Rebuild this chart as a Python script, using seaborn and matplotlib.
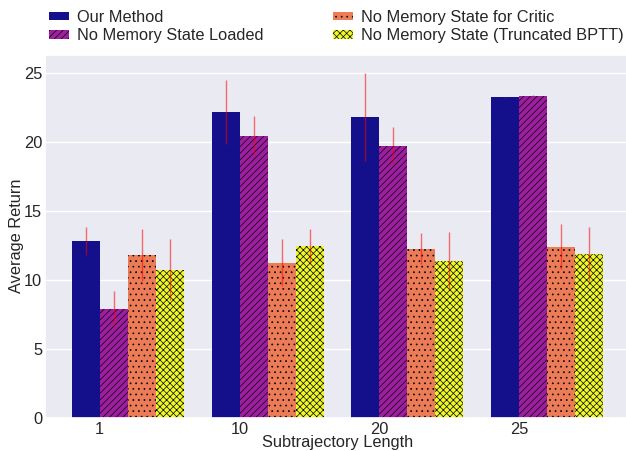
import numpy as np
import pandas as pd
import seaborn as sns
import matplotlib
matplotlib.use('Agg')
import matplotlib.pyplot as plt

# values
lengths = ['1', '10', '20', '25']
methods = ['Our Method', 'No Memory State Loaded',
           'No Memory State for Critic', 'No Memory State (Truncated BPTT)']
our_method = [12.8, 22.14, 21.81, 23.22]
no_mem_loaded = [7.87, 20.43, 19.69, 23.31]
no_mem_critic = [11.78, 11.23, 12.25, 12.39]
no_mem_bptt = [10.72, 12.44, 11.38, 11.84]
our_err = [1.03, 2.3, 3.2, 0.05]
loaded_err = [1.3, 1.4, 1.35, 0.1]
critic_err = [1.87, 1.72, 1.15, 1.63]
bptt_err = [2.2, 1.26, 2.08, 1.95]

means = [our_method, no_mem_loaded, no_mem_critic, no_mem_bptt]
errs = [our_err, loaded_err, critic_err, bptt_err]
hatches = ['', '/////', '...', 'xxxxx']

df = pd.DataFrame([
    {'Subtrajectory Length': l, 'method': m, 'Average Return': means[i][j], 'err': errs[i][j]}
    for i, m in enumerate(methods)
    for j, l in enumerate(lengths)
])

sns.set_theme(style='darkgrid')
plt.rcParams['font.family'] = ['Liberation Sans', 'DejaVu Sans']
plt.rcParams['hatch.linewidth'] = 0.5

fs = 11.8
colors = [plt.cm.plasma(v) for v in np.linspace(0, 1, 4)]

fig = plt.figure(figsize=(6.26, 4.51), dpi=100)
ax = fig.add_axes([45 / 626, 33.3 / 451, 585 / 626, 363 / 451])

sns.barplot(data=df, x='Subtrajectory Length', y='Average Return', hue='method',
            hue_order=methods, order=lengths, palette=colors, saturation=1,
            errorbar=None, ax=ax, alpha=0.97)

for cont, h, e in zip(ax.containers, hatches, errs):
    for p in cont.patches:
        p.set_hatch(h)
        p.set_edgecolor((0, 0, 0, 0.5))
        p.set_linewidth(0)
    xs = [p.get_x() + p.get_width() / 2 for p in cont.patches]
    ys = [p.get_height() for p in cont.patches]
    ax.errorbar(xs, ys, yerr=e, fmt='none', ecolor='red', alpha=0.55,
                elinewidth=1, capsize=0, zorder=5)

ax.get_legend().remove()
ax.set_xticks(np.arange(len(lengths)) - 0.2)
ax.set_xticklabels(lengths)
ax.tick_params(axis='x', labelsize=fs, pad=3, length=0)
ax.tick_params(axis='y', labelsize=fs, pad=2, length=0)
ax.set_xlim(-0.59, 3.59)
ax.set_ylim(0, 26.3)
ax.set_xlabel('Subtrajectory Length', fontsize=fs, labelpad=-1)
ax.set_ylabel('Average Return', fontsize=fs, labelpad=0)

fig.legend(ax.containers, methods, ncol=2, loc='upper left',
           bbox_to_anchor=(34 / 626, 1.0 + 5 / 451), frameon=False, fontsize=fs,
           handlelength=1.25, handleheight=0.44, handletextpad=0.5,
           columnspacing=4.2, labelspacing=0.22)

fig.savefig('out.png', dpi=100)
